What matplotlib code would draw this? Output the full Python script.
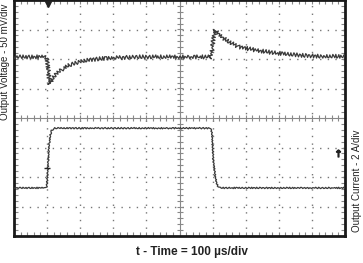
import matplotlib
matplotlib.use('Agg')
import matplotlib.pyplot as plt
import numpy as np

plt.rcParams['font.family'] = ['Liberation Sans', 'DejaVu Sans']

# scope settings
t_per_div = 100     # us/div
v_per_div = 50      # mV/div
i_per_div = 2       # A/div
v_pos_div = 6.07    # voltage trace reference level (div)
i_pos_div = 1.63    # current trace reference level (div)

# output voltage deviation (mV) vs time (us)
v_time = [0, 96, 100, 104, 108, 113, 120, 133, 150, 166, 190, 226, 280, 380, 480, 560, 596,
          599, 602, 606, 609, 620, 630, 650, 680, 725, 785, 860, 930, 1000]
v_mv = [0, 0, -3, -25, -46, -40, -34, -26, -19, -14, -10, -5, -2, 0, 0, 0, 0,
        15, 32, 46, 44, 38, 33, 25, 17, 12, 7, 3, 1, 1]

# output current (A) vs time (us)
i_time = [0, 96, 99, 101, 106, 110, 114, 124, 200, 400, 595, 598, 602, 608, 614, 618, 623, 700, 1000]
i_amp = [0, 0, 0.1, 0.8, 2.9, 3.6, 3.9, 4.05, 4.05, 4.05, 4.05, 3.75, 1.9, 0.75, 0.2, 0.07, 0, 0, 0]

fig = plt.figure(figsize=(3.63, 2.63), dpi=100)
ax = fig.add_axes([14 / 363, 27 / 263, 331 / 363, 236 / 263])
ax.set_xlim(0, 10)
ax.set_ylim(0, 8)

# dotted graticule
for k in range(1, 10):
    if k != 5:
        ax.plot([k, k], [0, 8], color='#777777', lw=1, ls=(0, (1, 4.5)), zorder=1)
for k in range(1, 8):
    if k != 4:
        ax.plot([0, 10], [k, k], color='#777777', lw=1, ls=(0, (1, 4.5)), zorder=1)

# centre cross with minor ticks
ax.axhline(4, color='#888888', lw=0.8, zorder=1)
ax.axvline(5, color='#888888', lw=0.8, zorder=1)
ax.plot(np.arange(0.2, 10, 0.2), np.full(49, 4.0), ls='none', marker='|', ms=4, mew=0.8, color='#888888', zorder=1)
ax.plot(np.full(39, 5.0), np.arange(0.2, 8, 0.2), ls='none', marker='_', ms=4, mew=0.8, color='#888888', zorder=1)

ax.set_xticks(np.arange(0, 10.01, 1))
ax.set_yticks(np.arange(0, 8.01, 1))
ax.set_xticks(np.arange(0, 10.01, 0.2), minor=True)
ax.set_yticks(np.arange(0, 8.01, 0.2), minor=True)
ax.tick_params(which='both', direction='in', length=3, width=0.8, color='#888888',
               top=True, right=True, labelbottom=False, labelleft=False)

for sp in ax.spines.values():
    sp.set_linewidth(2)
    sp.set_color('#1a1a1a')

# traces
vx = np.array(v_time) / t_per_div
vy = v_pos_div + np.array(v_mv) / v_per_div
ln1, = ax.plot(vx, vy, color='#3a3a3a', lw=0.9, zorder=3)
ln1.set_sketch_params(scale=2.0, length=3, randomness=1.5)

ix = np.array(i_time) / t_per_div
iy = i_pos_div + np.array(i_amp) / i_per_div
ln2, = ax.plot(ix, iy, color='#3a3a3a', lw=0.9, zorder=3)
ln2.set_sketch_params(scale=0.7, length=3, randomness=1.5)

# markers
ax.plot(1.02, 7.88, marker='v', ms=5, color='#222222', clip_on=False, zorder=4)
ax.plot(1.0, i_pos_div + 1.36 / i_per_div, marker='_', ms=4, mew=1, color='#222222', zorder=4)
ax.plot(9.8, 2.81, marker=r'$\uparrow$', ms=5, color='#222222', zorder=4)

fig.text(5 / 363, 1 - 62 / 263, 'Output Voltage - 50 mV/div', rotation=90, ha='center', va='center',
         fontsize=7, color='#222222')
fig.text(357 / 363, 1 - 181 / 263, 'Output Current - 2 A/div', rotation=90, ha='center', va='center',
         fontsize=7, color='#222222')
fig.text(192 / 363, 1 - 252 / 263, 't - Time = 100 \u00b5s/div', ha='center', va='center',
         fontsize=8.5, fontweight='bold', color='#222222')

fig.savefig('out.png', dpi=100)
